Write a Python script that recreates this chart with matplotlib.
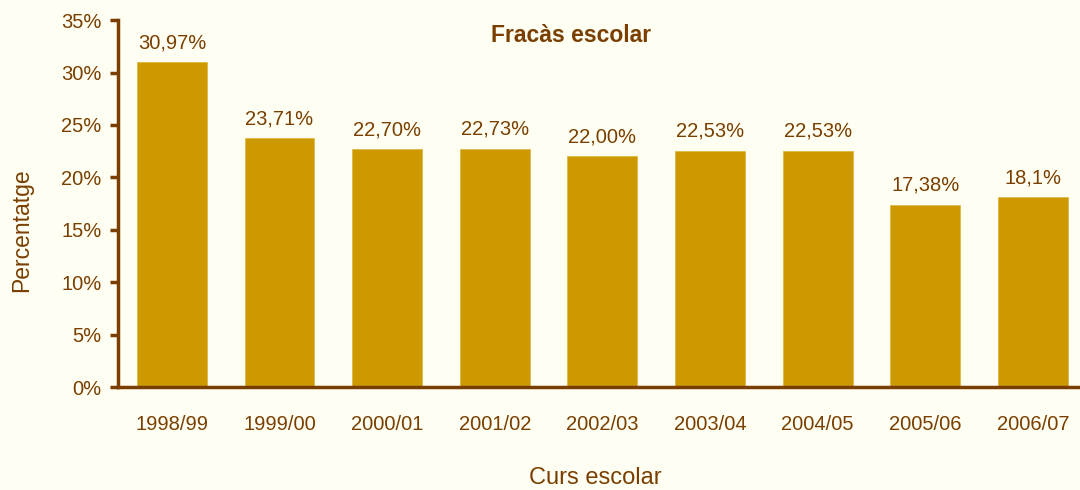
import matplotlib.pyplot as plt
import numpy as np

cursos = ['1998/99', '1999/00', '2000/01', '2001/02', '2002/03',
          '2003/04', '2004/05', '2005/06', '2006/07']
valors = [30.97, 23.71, 22.70, 22.73, 22.00, 22.53, 22.53, 17.38, 18.1]
etiquetes = ['30,97%', '23,71%', '22,70%', '22,73%', '22,00%',
             '22,53%', '22,53%', '17,38%', '18,1%']
yticks = [0, 5, 10, 15, 20, 25, 30, 35]

fons = '#FFFEF2'
marro = '#7A3F00'
color_barra = '#CC9900'

plt.rcParams['font.family'] = ['Liberation Sans', 'DejaVu Sans']

fig = plt.figure(figsize=(10.8, 4.9), dpi=100, facecolor=fons)
ax = fig.add_axes([0.1093, 0.21, 0.897, 0.749], facecolor=fons)

x = np.arange(len(cursos))
ax.bar(x, valors, width=0.65, color=color_barra, edgecolor='#E0B840', linewidth=0.6)

# etiquetes de valor damunt de cada barra
for xi, v, t in zip(x, valors, etiquetes):
    ax.annotate(t, (xi, v), xytext=(0, 10), textcoords='offset pixels',
                ha='center', va='bottom', fontsize=14.5, color=marro)

ax.set_xlim(-0.5, len(cursos) - 0.5)
ax.set_ylim(0, 35)
ax.set_yticks(yticks)
ax.set_yticklabels([f'{t}%' for t in yticks], fontsize=14.5, color=marro)
ax.set_xticks(x)
ax.set_xticklabels(cursos, fontsize=14.5, color=marro)
ax.tick_params(axis='x', length=0, pad=20)
ax.tick_params(axis='y', length=6, width=2.5, color=marro, pad=6)

for s in ['top', 'right']:
    ax.spines[s].set_visible(False)
for s in ['left', 'bottom']:
    ax.spines[s].set_color(marro)
    ax.spines[s].set_linewidth(2.5)

fig.text(0.02, 1 - 230 / 490, 'Percentatge', fontsize=16.5, color=marro,
         rotation=90, ha='center', va='center')
fig.text(595 / 1080, 1 - 478 / 490, 'Curs escolar', fontsize=17, color=marro,
         ha='center', va='center')
fig.text(571 / 1080, 1 - 35 / 490, 'Fracàs escolar', fontsize=16.5, fontweight='bold',
         color=marro, ha='center', va='center')

fig.savefig('out.png', dpi=100, facecolor=fons)
